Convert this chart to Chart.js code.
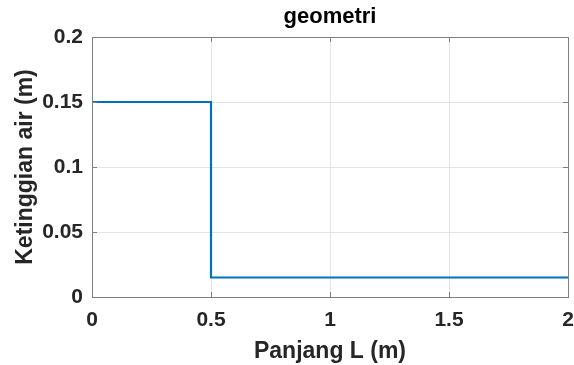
<!DOCTYPE html>
<html>
<head>
<meta charset="utf-8">
<script src="https://cdn.jsdelivr.net/npm/chart.js@4/dist/chart.umd.min.js"></script>
<style>
html,body{margin:0;padding:0;background:#fff;}
#wrap{width:574px;height:365px;}
</style>
</head>
<body>
<div id="wrap"><canvas id="c" width="574" height="365"></canvas></div>
<script>
const xValues = [0, 0.5, 0.5, 2];
const yValues = [0.15, 0.15, 0.015, 0.015];
const xTicks = [0, 0.5, 1, 1.5, 2];
const yTicks = [0, 0.05, 0.1, 0.15, 0.2];
const titleText = 'geometri';
const xTitle = 'Panjang L (m)';
const yTitle = 'Ketinggian air (m)';

const FONT = '"Liberation Sans", Arial, sans-serif';
const axisColor = '#7f7f7f';

const boxPlugin = {
  id: 'box',
  afterDatasetsDraw(chart) {
    const {ctx, chartArea: a, scales} = chart;
    ctx.save();
    ctx.strokeStyle = axisColor;
    ctx.lineWidth = 1;
    const L = 5;
    ctx.beginPath();
    xTicks.forEach(v => {
      const px = Math.round(scales.x.getPixelForValue(v)) + 0.5;
      ctx.moveTo(px, a.bottom); ctx.lineTo(px, a.bottom - L);
      ctx.moveTo(px, a.top); ctx.lineTo(px, a.top + L);
    });
    yTicks.forEach(v => {
      const py = Math.round(scales.y.getPixelForValue(v)) + 0.5;
      ctx.moveTo(a.left, py); ctx.lineTo(a.left + L, py);
      ctx.moveTo(a.right, py); ctx.lineTo(a.right - L, py);
    });
    ctx.stroke();
    ctx.strokeRect(Math.round(a.left) + 0.5, Math.round(a.top) + 0.5,
                   Math.round(a.right - a.left), Math.round(a.bottom - a.top));
    ctx.restore();
  }
};

new Chart(document.getElementById('c'), {
  type: 'line',
  data: {
    datasets: [{
      data: xValues.map((x, i) => ({x: x, y: yValues[i]})),
      borderColor: '#0072BD',
      borderWidth: 2.2,
      pointRadius: 0,
      fill: false,
      tension: 0
    }]
  },
  options: {
    responsive: false,
    animation: false,
    layout: {padding: {left: 0, right: 6, top: 0, bottom: 0}},
    plugins: {
      legend: {display: false},
      tooltip: {enabled: false},
      title: {display: false}
    },
    scales: {
      x: {
        type: 'linear',
        min: 0, max: 2,
        afterBuildTicks: s => { s.ticks = xTicks.map(v => ({value: v})); },
        afterFit: s => { s.height = 68; s.paddingLeft = 0; s.paddingRight = 0; },
        grid: {color: '#e3e3e3', drawTicks: false},
        border: {display: false},
        ticks: {
          color: '#262626',
          font: {family: FONT, size: 21, weight: 'bold'},
          padding: 11,
          maxRotation: 0,
          callback: v => String(v)
        },
        title: {
          display: true, text: xTitle, color: '#262626',
          font: {family: FONT, size: 23, weight: 'bold', lineHeight: 1.2},
          padding: {top: 0, bottom: 0}
        }
      },
      xTop: {
        type: 'linear',
        position: 'top',
        min: 0, max: 2,
        afterFit: s => { s.height = 37; s.paddingLeft = 0; s.paddingRight = 0; },
        grid: {display: false, drawTicks: false},
        border: {display: false},
        ticks: {display: false},
        title: {
          display: true, text: titleText, color: '#000',
          font: {family: FONT, size: 22, weight: 'bold', lineHeight: 1.2},
          padding: {top: 3.5, bottom: 0}
        }
      },
      y: {
        type: 'linear',
        min: 0, max: 0.2,
        afterBuildTicks: s => { s.ticks = yTicks.map(v => ({value: v})); },
        afterFit: s => { s.width = 92; },
        grid: {color: '#e3e3e3', drawTicks: false},
        border: {display: false},
        ticks: {
          color: '#262626',
          font: {family: FONT, size: 21, weight: 'bold'},
          padding: 9,
          callback: v => String(v)
        },
        title: {
          display: true, text: yTitle, color: '#262626',
          font: {family: FONT, size: 23, weight: 'bold', lineHeight: 1.2},
          padding: {top: 12.2, bottom: 0}
        }
      }
    }
  },
  plugins: [boxPlugin]
});
</script>
</body>
</html>
